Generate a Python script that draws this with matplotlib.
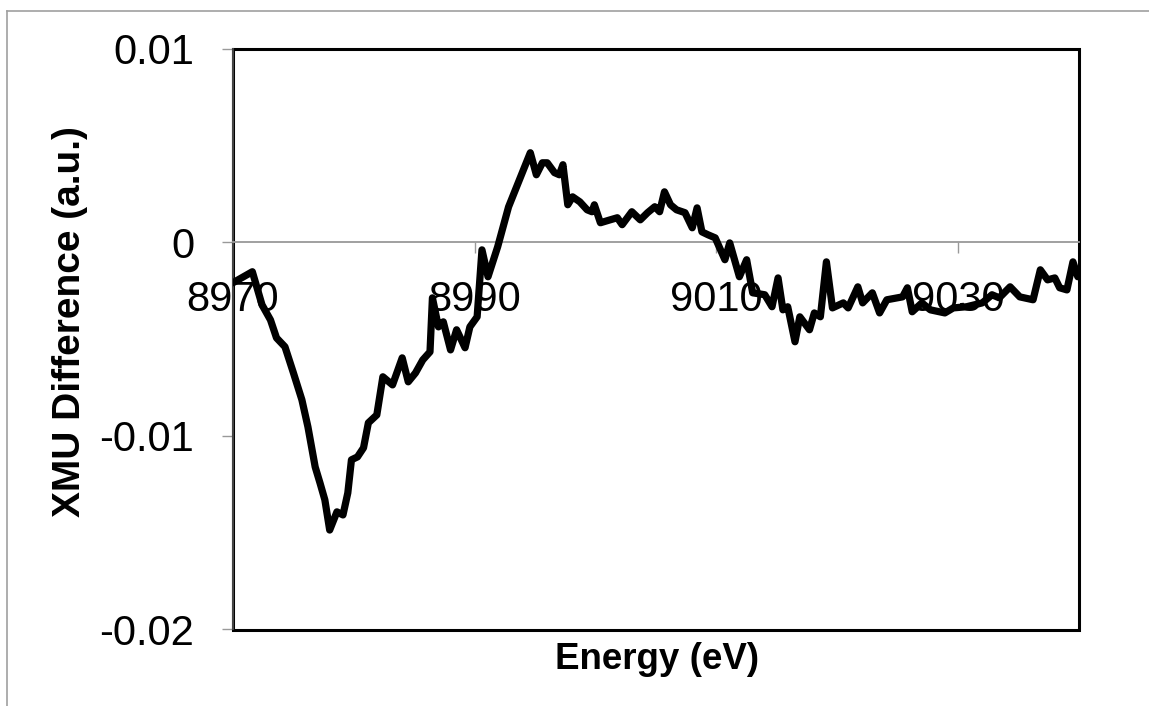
import matplotlib
matplotlib.use("Agg")
import matplotlib.pyplot as plt
from matplotlib.lines import Line2D
from matplotlib.patches import Rectangle
from matplotlib.ticker import FixedLocator, FixedFormatter

plt.rcParams["font.family"] = ["Liberation Sans", "DejaVu Sans"]

# energy (eV) and XMU difference
energy = [
    8970.0, 8971.6, 8972.4, 8973.1, 8973.6, 8974.3, 8975.0, 8975.7, 8976.2, 8976.8,
    8977.2, 8977.6, 8978.0, 8978.6, 8979.1, 8979.5, 8979.8, 8980.3, 8980.8, 8981.2,
    8981.9, 8982.4, 8983.2, 8984.0, 8984.5, 8985.1, 8985.7, 8986.3, 8986.5, 8987.0,
    8987.4, 8988.0, 8988.5, 8989.2, 8989.6, 8990.2, 8990.6, 8991.1, 8991.9, 8992.8,
    8993.3, 8994.6, 8995.1, 8995.6, 8996.0, 8996.6, 8997.0, 8997.3, 8997.7, 8998.1,
    8998.7, 8999.3, 8999.7, 8999.9, 9000.4, 9001.2, 9001.8, 9002.2, 9003.0, 9003.7,
    9004.3, 9004.9, 9005.3, 9005.7, 9006.2, 9006.7, 9007.4, 9008.0, 9008.4, 9008.8,
    9009.3, 9009.9, 9010.7, 9011.1, 9011.9, 9012.5, 9013.0, 9014.0, 9014.6, 9015.1,
    9015.5, 9015.9, 9016.5, 9016.9, 9017.7, 9018.1, 9018.6, 9019.1, 9019.6, 9020.5,
    9020.9, 9021.7, 9022.1, 9022.9, 9023.5, 9024.1, 9025.4, 9025.8, 9026.2, 9027.0,
    9027.7, 9028.9, 9029.6, 9030.7, 9032.0, 9032.8, 9033.4, 9034.3, 9035.1, 9036.2,
    9036.8, 9037.4, 9038.0, 9038.4, 9039.0, 9039.5, 9039.9,
]
xmu_diff = [
    -0.00208, -0.00151, -0.00322, -0.00400, -0.00493, -0.00539, -0.00674, -0.00813, -0.00953, -0.01160,
    -0.01243, -0.01330, -0.01486, -0.01392, -0.01408, -0.01294, -0.01123, -0.01108, -0.01061, -0.00932,
    -0.00891, -0.00694, -0.00736, -0.00596, -0.00720, -0.00674, -0.00607, -0.00565, -0.00286, -0.00436,
    -0.00410, -0.00555, -0.00451, -0.00544, -0.00436, -0.00384, -0.00038, -0.00177, -0.00022, 0.00184,
    0.00262, 0.00464, 0.00350, 0.00412, 0.00412, 0.00361, 0.00350, 0.00402, 0.00195, 0.00236,
    0.00210, 0.00169, 0.00159, 0.00195, 0.00102, 0.00117, 0.00128, 0.00092, 0.00159, 0.00117,
    0.00154, 0.00185, 0.00159, 0.00262, 0.00195, 0.00169, 0.00154, 0.00076, 0.00179, 0.00055,
    0.00040, 0.00024, -0.00089, -0.00002, -0.00177, -0.00089, -0.00260, -0.00270, -0.00332, -0.00183,
    -0.00348, -0.00332, -0.00513, -0.00384, -0.00451, -0.00364, -0.00384, -0.00100, -0.00338, -0.00312,
    -0.00338, -0.00229, -0.00312, -0.00260, -0.00364, -0.00296, -0.00281, -0.00234, -0.00358, -0.00312,
    -0.00348, -0.00364, -0.00338, -0.00332, -0.00312, -0.00270, -0.00286, -0.00229, -0.00281, -0.00296,
    -0.00141, -0.00193, -0.00183, -0.00234, -0.00245, -0.00100, -0.00177,
]

x_ticks = [8970, 8990, 9010, 9030]
x_labels = ["8970", "8990", "9010", "9030"]
y_ticks = [-0.02, -0.01, 0, 0.01]
y_labels = ["-0.02", "-0.01", "0", "0.01"]

W, H = 1149, 706
fig = plt.figure(figsize=(W / 100, H / 100), dpi=100)
ax = fig.add_axes([233 / W, 1 - 629.5 / H, (1079 - 233) / W, (629.5 - 49) / H])

ax.plot(energy, xmu_diff, color="black", lw=5.2, solid_joinstyle="round",
        solid_capstyle="round", zorder=3)
ax.set_xlim(8970, 9040)
ax.set_ylim(-0.02, 0.01)

# axis lines: x axis crosses at zero
for s in ["top", "right"]:
    ax.spines[s].set_visible(False)
ax.spines["bottom"].set_position(("data", 0))
ax.spines["bottom"].set_color("#999999")
ax.spines["bottom"].set_linewidth(1.3)
ax.spines["left"].set_color("#444444")
ax.spines["left"].set_linewidth(1.5)

# plot area border
ax.add_patch(Rectangle((0, 0), 1, 1, transform=ax.transAxes, fill=False,
                       edgecolor="black", lw=2.2, clip_on=False, zorder=2))

ax.xaxis.set_major_locator(FixedLocator(x_ticks))
ax.xaxis.set_major_formatter(FixedFormatter(x_labels))
ax.yaxis.set_major_locator(FixedLocator(y_ticks))
ax.yaxis.set_major_formatter(FixedFormatter(y_labels))
ax.tick_params(axis="x", direction="out", length=8, width=1, color="#999999",
               pad=19, labelsize=30)
ax.tick_params(axis="y", direction="out", length=8, width=1, color="#999999",
               pad=20, labelsize=30)
for lab in ax.get_xticklabels():
    lab.set_zorder(1)

fig.text(657 / W, 1 - 669 / H, "Energy (eV)", ha="center", va="baseline",
         fontsize=26.5, fontweight="bold")
fig.text(70 / W, 1 - 322 / H, "XMU Difference (a.u.)", ha="center", va="center",
         rotation=90, fontsize=28, fontweight="bold")

# outer chart border (cropped on right and bottom)
fig.add_artist(Line2D([7 / W, 1], [1 - 11 / H, 1 - 11 / H], color="#a0a0a0", lw=1.2))
fig.add_artist(Line2D([7 / W, 7 / W], [1 - 11 / H, 0], color="#a0a0a0", lw=1.2))

fig.savefig("out.png", dpi=100, facecolor="white")
